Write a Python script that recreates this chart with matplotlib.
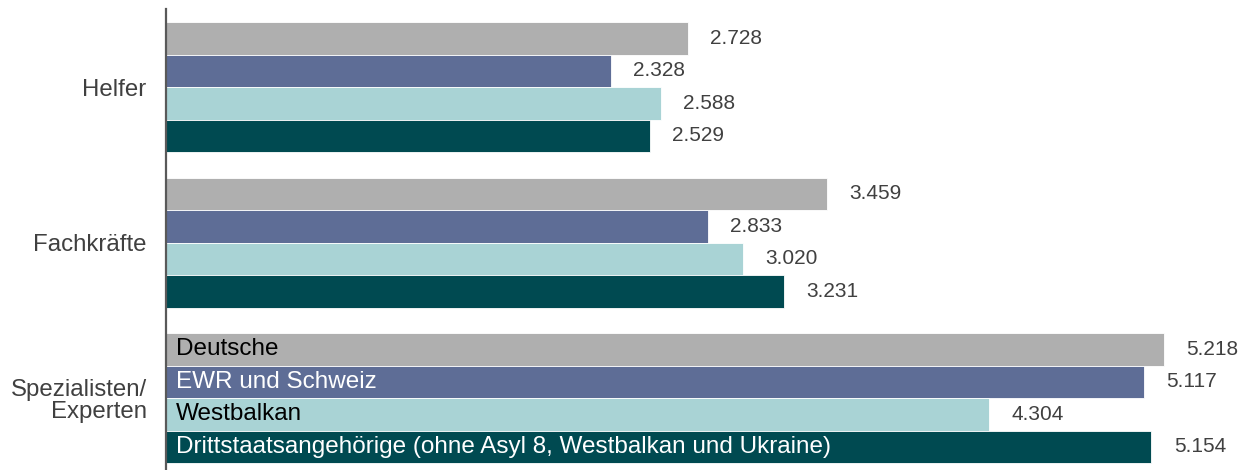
import matplotlib
matplotlib.use("Agg")
import matplotlib.pyplot as plt
import numpy as np

plt.rcParams["font.family"] = ["Liberation Sans", "DejaVu Sans"]

# --------------------------------------------------------------------------- #
# Data                                                                         #
# --------------------------------------------------------------------------- #

categories = ["Helfer", "Fachkräfte", "Spezialisten/\nExperten"]
series_names = [
    "Deutsche",
    "EWR und Schweiz",
    "Westbalkan",
    "Drittstaatsangehörige (ohne Asyl 8, Westbalkan und Ukraine)",
]
deutsche = [2.728, 3.459, 5.218]
ewr = [2.328, 2.833, 5.117]
westbalkan = [2.588, 3.020, 4.304]
drittstaaten = [2.529, 3.231, 5.154]

COLORS = ["#afafaf", "#5e6d96", "#a9d3d5", "#004a51"]
INBAR_TEXT = ["#000000", "#ffffff", "#000000", "#ffffff"]
TEXT = "#404040"

# --------------------------------------------------------------------------- #
# Plot                                                                         #
# --------------------------------------------------------------------------- #

fig = plt.figure(figsize=(12.46, 4.70), dpi=100)
W, H = 1246, 470
ax = fig.add_axes([166 / W, 0, 1 - 166 / W, 461 / H])

y = np.arange(len(categories))
h = 0.209
all_series = [deutsche, ewr, westbalkan, drittstaaten]

for i, (vals, col) in enumerate(zip(all_series, COLORS)):
    pos = y + (i - 1.5) * h
    ax.barh(pos, vals, height=h, color=col, edgecolor="white", linewidth=0.6)
    for p, v in zip(pos, vals):
        ax.annotate(f"{v:.3f}", (v, p), xytext=(16, 0), textcoords="offset points",
                    va="center", ha="left", fontsize=15, color=TEXT)
    # series names written inside the last group's bars
    ax.annotate(series_names[i], (0, pos[-1]), xytext=(7, 0), textcoords="offset points",
                va="center", ha="left", fontsize=17.5, color=INBAR_TEXT[i])

ax.set_xlim(0, 1080 / 191.2)
ax.set_ylim(2.463, -0.502)
ax.set_yticks(y)
ax.set_yticklabels(categories, fontsize=17.3, color=TEXT, linespacing=1.05)
ax.tick_params(axis="y", length=0, pad=14)
ax.set_xticks([])

for s in ["top", "right", "bottom"]:
    ax.spines[s].set_visible(False)
ax.spines["left"].set_color("#595959")
ax.spines["left"].set_linewidth(1.6)

fig.savefig("out.png", dpi=100)
